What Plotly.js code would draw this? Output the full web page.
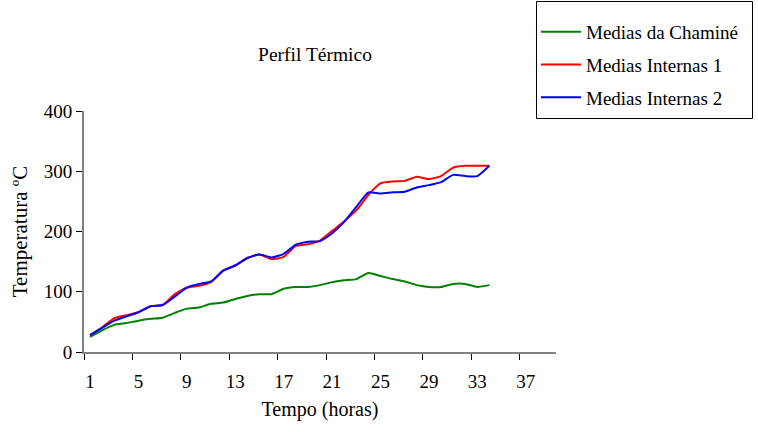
<!DOCTYPE html>
<html>
<head>
<meta charset="utf-8">
<script src="https://cdn.plot.ly/plotly-3.0.1.min.js"></script>
<style>html,body{margin:0;padding:0;background:#fff;}#chart{width:758px;height:432px;}</style>
</head>
<body>
<div id="chart"></div>
<script>
const hours = [1,2,3,4,5,6,7,8,9,10,11,12,13,14,15,16,17,18,19,20,21,22,23,24,25,26,27,28,29,30,31,32,33,34];
const chamine = [25,36,45,48,52,55,57,65,72,74,80,82,88,93,96,96,105,108,108,111,116,119,121,131,126,121,117,111,108,108,113,113,108,111];
const internas1 = [28,41,56,61,66,76,78,96,107,110,116,135,143,156,162,154,158,176,179,185,201,217,235,261,280,283,284,291,287,292,306,309,309,309];
const internas2 = [28,40,52,59,66,76,78,92,107,113,117,135,144,156,162,157,163,178,183,184,197,216,241,265,263,265,266,273,277,282,294,292,292,309];
const tickLabels = ['1','5','9','13','17','21','25','29','33','37'];
const tickPositions = [1,5,9,13,17,21,25,29,33,37];
const boundaryTicks = [0.5,4.5,8.5,12.5,16.5,20.5,24.5,28.5,32.5,36.5];
const seriesNames = ['Medias da Chaminé','Medias Internas 1','Medias Internas 2'];

const FONT = '"Liberation Serif", "Times New Roman", serif';
const mk = (y, name, color, g) => ({
  x: hours, y: y, name: name, type: 'scatter', mode: 'lines',
  line: {color: color, width: 2, shape: 'spline', smoothing: 0.5},
  legendgroup: g
});
const data = [
  mk(chamine, seriesNames[0], '#008000', 'a'),
  mk(internas1, seriesNames[1], '#ff0000', 'b'),
  mk(internas2, seriesNames[2], '#0000ff', 'c')
];
// plot area: x 84..556, y 111..352 (px)
const L = 84, R = 556, T = 111, B = 352;
const px2paperX = p => (p - L) / (R - L);
const px2paperY = p => (B - p) / (B - T);
const layout = {
  width: 758, height: 432,
  margin: {l: L, r: 758 - R, t: T, b: 432 - B, autoexpand: false},
  paper_bgcolor: '#fff', plot_bgcolor: '#fff',
  font: {family: FONT, color: '#000', size: 19},
  title: {text: 'Perfil Térmico', font: {family: FONT, size: 19.5, color: '#000'},
          xref: 'container', yref: 'container', x: 315/758, y: 1 - 54/432, xanchor: 'center', yanchor: 'middle'},
  showlegend: true,
  legend: {xref: 'container', yref: 'container', x: 536/758, y: 1 - 13/432, xanchor: 'left', yanchor: 'top',
           borderwidth: 0, bgcolor: 'rgba(0,0,0,0)', font: {family: FONT, size: 19, color: '#000'},
           traceorder: 'grouped', tracegroupgap: 5, itemwidth: 40},
  shapes: [{type: 'rect', xref: 'paper', yref: 'paper',
            x0: px2paperX(536.5), x1: px2paperX(752.5), y0: px2paperY(118.5), y1: px2paperY(1.5),
            line: {color: '#000', width: 1}, fillcolor: 'rgba(0,0,0,0)'}],
  xaxis: {
    range: [0.5, 39.5], tickmode: 'array', tickvals: tickPositions, ticktext: tickLabels,
    ticks: '', ticklabelstandoff: 11, showgrid: false, zeroline: false,
    showline: true, linecolor: '#808080', linewidth: 2,
    tickfont: {family: FONT, size: 19, color: '#000'},
    minor: {tickmode: 'array', tickvals: boundaryTicks, ticks: 'outside', ticklen: 6, tickcolor: '#000', tickwidth: 1, showgrid: false},
    title: {text: 'Tempo (horas)', font: {family: FONT, size: 20, color: '#000'}, standoff: 11}
  },
  yaxis: {
    range: [0, 400], tickmode: 'linear', tick0: 0, dtick: 100,
    ticks: 'outside', ticklen: 6, tickcolor: '#000', tickwidth: 1,
    showgrid: false, zeroline: false, showline: true, linecolor: '#808080', linewidth: 2,
    tickfont: {family: FONT, size: 19, color: '#000'},
    title: {text: 'Temperatura ºC', font: {family: FONT, size: 21, color: '#000'}, standoff: 10}
  }
};
Plotly.newPlot('chart', data, layout, {displayModeBar: false, staticPlot: true});
</script>
</body>
</html>
